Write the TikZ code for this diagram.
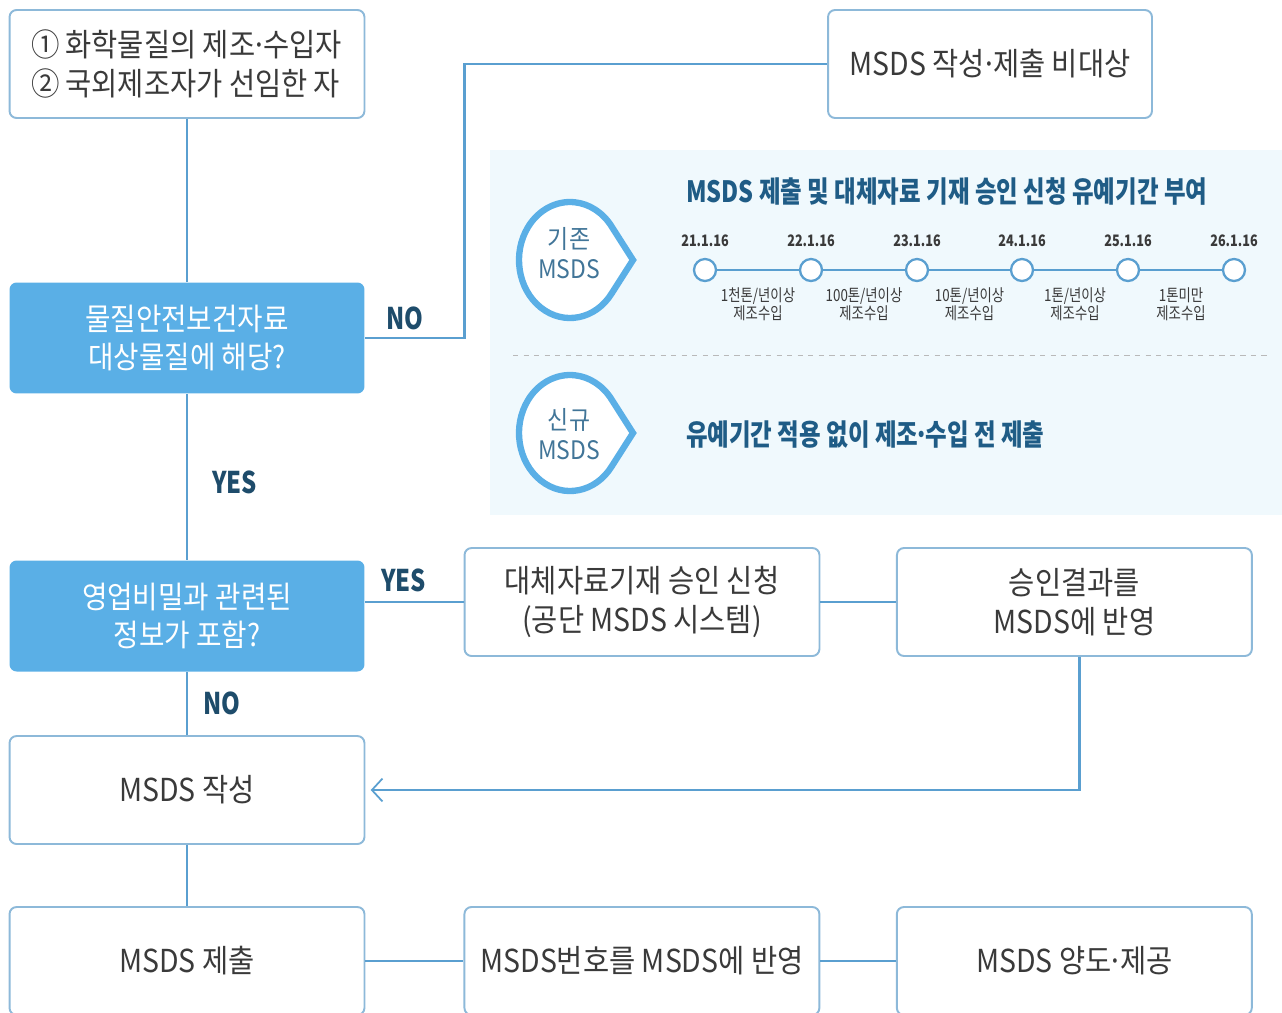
\documentclass[tikz,border=0pt]{standalone}
\usepackage{fontspec}
\setmainfont[FakeStretch=0.9]{Noto Sans CJK KR}
\newfontfamily\narrowkr[FakeStretch=0.8]{Noto Sans CJK KR}
\usetikzlibrary{positioning,arrows.meta,calc}
\definecolor{boxline}{HTML}{8DB9D9}
\definecolor{conline}{HTML}{5A9FD0}
\definecolor{qfill}{HTML}{5AAFE6}
\definecolor{navy}{HTML}{1E4C6B}
\definecolor{panel}{HTML}{F0F9FD}
\definecolor{ink}{HTML}{3A3A3A}
\definecolor{titleblue}{HTML}{1F5C86}
\newcommand\mdot{\kern-0.12em·\kern-0.12em}

\begin{document}
\begin{tikzpicture}[x=0.02cm,y=-0.02cm,on grid,
  box/.style={draw=boxline,line width=1.1pt,rounded corners=4pt,fill=white,text=ink,
    minimum width=7.1cm,minimum height=2.16cm,align=center,inner sep=0pt,
    font=\fontsize{18}{22}\selectfont},
  ask/.style={box,draw=none,fill=qfill,text=white,minimum height=2.22cm,
    font=\fontsize{17.5}{22}\selectfont},
  conn/.style={draw=conline,line width=1.5pt},
  yn/.style={text=navy,font=\narrowkr\bfseries\fontsize{17}{20}\selectfont,anchor=west},
  pin/.style={draw=qfill,line width=3.6pt,fill=white},
  pintext/.style={text=titleblue!85,align=center,font=\fontsize{14.5}{17}\selectfont},
  dot/.style={circle,draw=conline,line width=1.3pt,fill=white,minimum size=0.44cm,inner sep=0pt},
  date/.style={text=ink,font=\narrowkr\bfseries\fontsize{9}{11}\selectfont},
  grace/.style={text=ink,align=center,font=\narrowkr\fontsize{9.5}{10.2}\selectfont},
  tl/.style={draw=conline,line width=1.3pt},
  panelhead/.style={anchor=west,text=titleblue,font=\narrowkr\bfseries\fontsize{16.7}{18}\selectfont}]
  \useasboundingbox (0,0) rectangle (1282,1012);
  \clip (0,0) rectangle (1282,1012);

  % grace period panel
  \fill[panel] (490,150) rectangle (1282,515);
  \draw[pin] (570,260) ++(35:51 and 58) arc[start angle=35,end angle=325,x radius=51,y radius=58] -- (633,260) -- cycle;
  \draw[pin] (570,433) ++(35:51 and 58) arc[start angle=35,end angle=325,x radius=51,y radius=58] -- (633,433) -- cycle;
  \node[pintext] (oldpin) at (569,253) {기존\\MSDS};
  \node[pintext] (newpin) at (569,434) {신규\\MSDS};
  \node[panelhead] (gracetitle) at (680,192) {MSDS 제출 및 대체자료 기재 승인 신청 유예기간 부여};
  \node[panelhead] (newtext) at (680,435) {유예기간 적용 없이 제조\mdot 수입 전 제출};
  \draw[dashed,draw=gray!55] (513,355) -- (1270,355);

  \foreach \x/\d [count=\i] in {705/21.1.16,811/22.1.16,917/23.1.16,1022/24.1.16,1128/25.1.16,1234/26.1.16}{
    \node[dot] (t\i) at (\x,270) {};
    \node[date] (d\i) at (\x,241) {\d};
  }
  \foreach \i [evaluate=\i as \j using int(\i+1)] in {1,...,5}
    \draw[tl] (t\i) -- (t\j);
  \node[grace] (g1) at ($(t1)!0.5!(t2)+(0,34)$) {1천톤/년이상\\제조수입};
  \node[grace] (g2) at ($(t2)!0.5!(t3)+(0,34)$) {100톤/년이상\\제조수입};
  \node[grace] (g3) at ($(t3)!0.5!(t4)+(0,34)$) {10톤/년이상\\제조수입};
  \node[grace] (g4) at ($(t4)!0.5!(t5)+(0,34)$) {1톤/년이상\\제조수입};
  \node[grace] (g5) at ($(t5)!0.5!(t6)+(0,34)$) {1톤미만\\제조수입};

  % flow boxes
  \node[box,align=left] (who) at (187,64) {①\,화학물질의 제조\mdot 수입자\\②\,국외제조자가 선임한 자};
  \node[box,minimum width=6.48cm] (notarget) at (990,64) {MSDS 작성\mdot 제출 비대상};
  \node[ask] (dec1) at (187,338) {물질안전보건자료\\대상물질에 해당?};
  \node[ask] (dec2) at (187,616) {영업비밀과 관련된\\정보가 포함?};
  \node[box] (altreq) at (642,602) {대체자료기재 승인 신청\\(공단 MSDS 시스템)};
  \node[box] (result) [right=8.65cm of altreq] {승인결과를\\MSDS에 반영};
  \node[box] (write) at (187,790) {MSDS 작성};
  \node[box] (submit) at (187,961) {MSDS 제출};
  \node[box] (numreflect) [right=9.1cm of submit] {MSDS번호를 MSDS에 반영};
  \node[box] (transfer) [right=8.65cm of numreflect] {MSDS 양도\mdot 제공};

  \draw[conn] (who) -- (dec1);
  \draw[conn] (dec1) -- (dec2);
  \draw[conn] (dec2) -- (write);
  \draw[conn] (write) -- (submit);
  \draw[conn] (dec1.east) -- ++(99,0) |- (notarget.west);
  \draw[conn] (altreq.west -| dec2.east) -- (altreq.west);
  \draw[conn] (altreq) -- (result);
  \draw[conn,-{Straight Barb[length=6pt,width=13pt,line width=1pt]},shorten >=3pt] ([xshift=0.1cm]result.south) |- (write.east);
  \draw[conn] (submit) -- (numreflect);
  \draw[conn] (numreflect) -- (transfer);

  \node[yn] (no1) at (380,318) {NO};
  \node[yn] (yes1) at (206,482) {YES};
  \node[yn] (yes2) at (375,580) {YES};
  \node[yn] (no2) at (197,703) {NO};
\end{tikzpicture}
\end{document}
